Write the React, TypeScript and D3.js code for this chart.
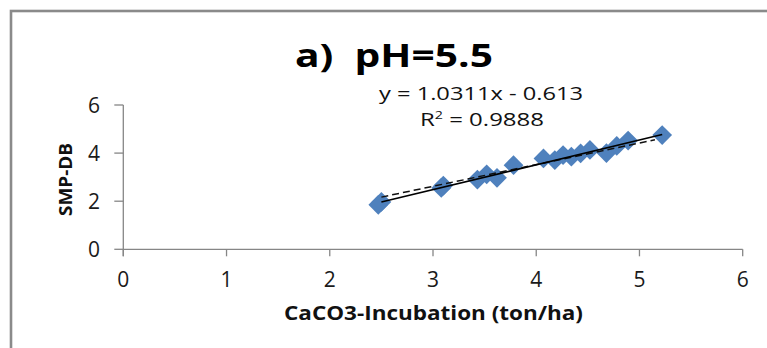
import React from "react";
import * as d3 from "d3";

const W = 767;
const H = 348;

// data
const xValues = [2.47, 2.5, 3.08, 3.1, 3.43, 3.52, 3.62, 3.78, 4.07, 4.18, 4.26, 4.34, 4.43, 4.52, 4.68, 4.78, 4.89, 5.22];
const yValues = [1.85, 1.97, 2.55, 2.65, 2.9, 3.12, 2.97, 3.5, 3.78, 3.71, 3.92, 3.85, 3.99, 4.13, 4.0, 4.3, 4.52, 4.75];
const xTicks = [0, 1, 2, 3, 4, 5, 6];
const yTicks = [0, 2, 4, 6];
// solid trendline (equation shown) and dashed reference line
const solidLine = { slope: 1.0311, intercept: -0.613, x0: 2.5, x1: 5.22 };
const dashedLine = { slope: 0.9, intercept: -0.08, x0: 2.5, x1: 5.15 };

const title = "a)  pH=5.5";
const eqText = "y = 1.0311x - 0.613";
const r2Value = "0.9888";
const xTitle = "CaCO3-Incubation (ton/ha)";
const yTitle = "SMP-DB";

export default function App() {
  const x = d3.scaleLinear().domain([0, 6]).range([123.3, 742.7]);
  const y = d3.scaleLinear().domain([0, 6]).range([249.3, 105]);
  const axisColor = "#868686";
  const font = "'Open Sans', 'Noto Sans', sans-serif";
  const diamond = d3.symbol(d3.symbolSquare, 195)() as string;
  const lineGen = (l: { slope: number; intercept: number; x0: number; x1: number }) =>
    d3.line<number>().x((v) => x(v)).y((v) => y(l.slope * v + l.intercept))([l.x0, l.x1]) as string;

  return (
    <svg width={W} height={H} style={{ position: "absolute", left: 0, top: 0, background: "#fff" }}>
      <rect x={0} y={0} width={W} height={H} fill="#fff" />
      <rect x={11} y={11} width={W + 20} height={H + 20} fill="none" stroke="#8a8a8a" strokeWidth={2.6} />

      {/* title */}
      <text x={295} y={67} fontFamily={font} fontWeight="bold" fontSize={32} textLength={198} lengthAdjust="spacingAndGlyphs" fill="#000" style={{ whiteSpace: "pre" }}>
        {title}
      </text>

      {/* equation */}
      <text x={379} y={100} fontFamily={font} fontSize={18.5} textLength={204} lengthAdjust="spacingAndGlyphs" fill="#111">
        {eqText}
      </text>
      <text x={420} y={126} fontFamily={font} fontSize={18.5} textLength={124} lengthAdjust="spacingAndGlyphs" fill="#111">
        R<tspan fontSize={11} dy={-7}>2</tspan>
        <tspan dy={7}>{" = " + r2Value}</tspan>
      </text>

      {/* axes */}
      <line x1={x(0)} x2={x(0)} y1={y(6)} y2={y(0) + 7} stroke={axisColor} strokeWidth={1.3} />
      <line x1={x(0)} x2={x(6)} y1={y(0)} y2={y(0)} stroke={axisColor} strokeWidth={1.3} />
      {yTicks.map((t) => (
        <g key={"y" + t}>
          <line x1={x(0) - 9} x2={x(0)} y1={y(t)} y2={y(t)} stroke={axisColor} strokeWidth={1.3} />
          <text x={100} y={y(t) + 7.5} textAnchor="end" fontFamily={font} fontSize={21} fill="#1a1a1a">
            {t}
          </text>
        </g>
      ))}
      {xTicks.map((t) => (
        <g key={"x" + t}>
          <line x1={x(t)} x2={x(t)} y1={y(0)} y2={y(0) + 7} stroke={axisColor} strokeWidth={1.3} />
          <text x={x(t)} y={287} textAnchor="middle" fontFamily={font} fontSize={21} fill="#1a1a1a">
            {t}
          </text>
        </g>
      ))}

      {/* axis titles */}
      <text x={284} y={320} fontFamily={font} fontWeight="bold" fontSize={19} textLength={299} lengthAdjust="spacingAndGlyphs" fill="#111">
        {xTitle}
      </text>
      <text transform="translate(72,216) rotate(-90)" fontFamily={font} fontWeight="bold" fontSize={18} textLength={73} lengthAdjust="spacingAndGlyphs" fill="#111">
        {yTitle}
      </text>

      {/* points */}
      {xValues.map((xv, i) => (
        <path key={"p" + i} d={diamond} transform={`translate(${x(xv)},${y(yValues[i])}) rotate(45)`} fill="#4F81BD" />
      ))}

      {/* trend lines */}
      <path d={lineGen(dashedLine)} fill="none" stroke="#111" strokeWidth={1.5} strokeDasharray="7,4" />
      <path d={lineGen(solidLine)} fill="none" stroke="#000" strokeWidth={1.6} />
    </svg>
  );
}
